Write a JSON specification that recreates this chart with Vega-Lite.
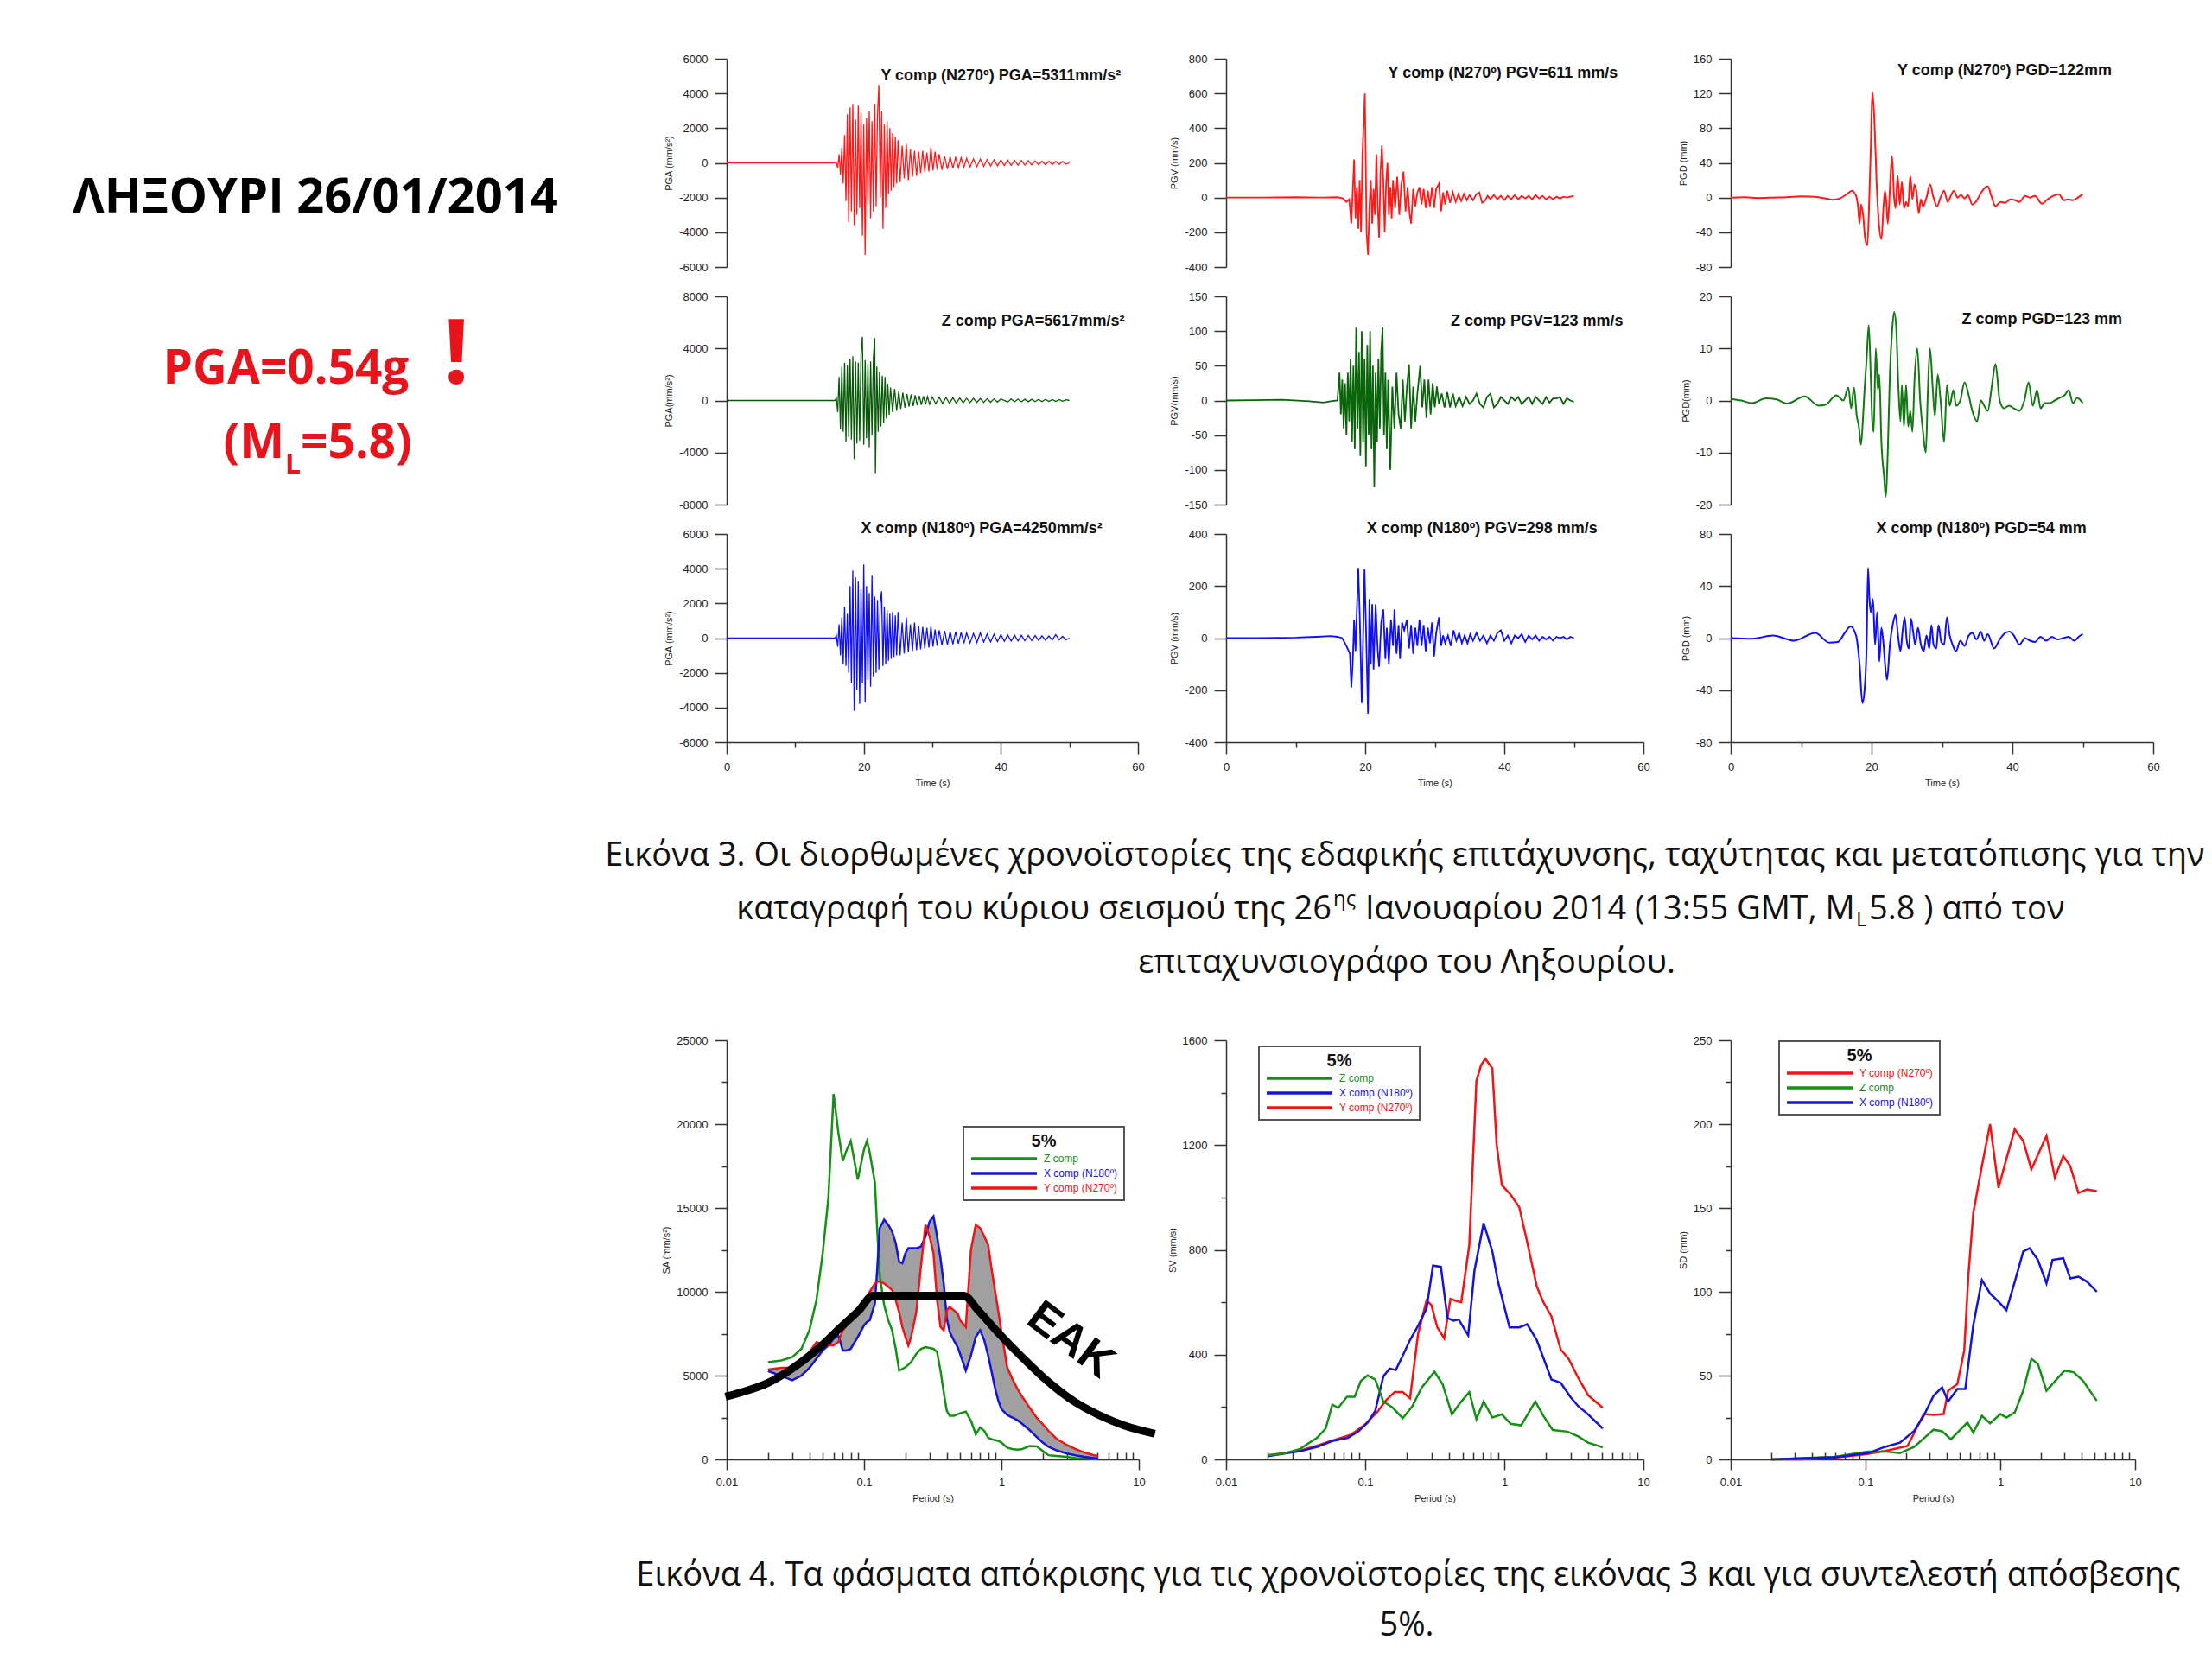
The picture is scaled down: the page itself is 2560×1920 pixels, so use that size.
{
  "$schema": "https://vega.github.io/schema/vega-lite/v6.json",
  "padding": {"left": 0, "top": 62, "right": 0, "bottom": 0},
  "background": "white",
  "columns": 4,
  "bounds": "flush",
  "align": "each",
  "spacing": {"row": 34, "column": 101},
  "resolve": {"scale": {"color": "independent"}},
  "datasets": {
    "ay": [
      {"t":0,"v":0},{"t":15.5,"v":0},{"t":16,"v":30},{"t":16.2,"v":-300},{"t":16.4,"v":500},{"t":16.6,"v":-700},{"t":16.8,"v":900},{"t":17,"v":-1200},{"t":17.2,"v":1600},{"t":17.4,"v":-2200},{"t":17.6,"v":2800},{"t":17.8,"v":-3400},{"t":18,"v":3200},{"t":18.2,"v":-2800},{"t":18.4,"v":3400},{"t":18.6,"v":-3600},{"t":18.8,"v":2500},{"t":19,"v":-3000},{"t":19.2,"v":3300},{"t":19.4,"v":-2600},{"t":19.6,"v":2900},{"t":19.8,"v":-4200},{"t":20,"v":2200},{"t":20.2,"v":-5300},{"t":20.4,"v":2600},{"t":20.6,"v":-2400},{"t":20.8,"v":3000},{"t":21,"v":-3200},{"t":21.2,"v":2400},{"t":21.4,"v":-2800},{"t":21.6,"v":3400},{"t":21.8,"v":-2500},{"t":22,"v":2800},{"t":22.2,"v":4500},{"t":22.4,"v":-2000},{"t":22.6,"v":3000},{"t":22.8,"v":-3800},{"t":23,"v":2200},{"t":23.2,"v":-2600},{"t":23.4,"v":2400},{"t":23.6,"v":-1800},{"t":23.8,"v":2000},{"t":24,"v":-1600},{"t":24.2,"v":1700},{"t":24.4,"v":-1400},{"t":24.6,"v":1500},{"t":24.8,"v":-1200},{"t":25,"v":1300},{"t":25.3,"v":-1100},{"t":25.6,"v":1000},{"t":25.9,"v":-900},{"t":26.2,"v":1100},{"t":26.5,"v":-1000},{"t":26.8,"v":800},{"t":27.1,"v":-800},{"t":27.4,"v":700},{"t":27.7,"v":-750},{"t":28,"v":650},{"t":28.3,"v":-600},{"t":28.6,"v":700},{"t":28.9,"v":-550},{"t":29.2,"v":600},{"t":29.5,"v":-500},{"t":29.8,"v":900},{"t":30.1,"v":-450},{"t":30.4,"v":650},{"t":30.7,"v":-400},{"t":31,"v":500},{"t":31.4,"v":-400},{"t":31.8,"v":380},{"t":32.2,"v":-350},{"t":32.6,"v":350},{"t":33,"v":-300},{"t":33.4,"v":320},{"t":33.8,"v":-280},{"t":34.2,"v":300},{"t":34.6,"v":-260},{"t":35,"v":260},{"t":35.5,"v":-240},{"t":36,"v":230},{"t":36.5,"v":-220},{"t":37,"v":220},{"t":37.5,"v":-200},{"t":38,"v":200},{"t":38.5,"v":-180},{"t":39,"v":180},{"t":39.5,"v":-170},{"t":40,"v":170},{"t":40.5,"v":-150},{"t":41,"v":160},{"t":41.5,"v":-140},{"t":42,"v":140},{"t":42.5,"v":-130},{"t":43,"v":130},{"t":43.5,"v":-120},{"t":44,"v":120},{"t":44.5,"v":-110},{"t":45,"v":110},{"t":45.5,"v":-100},{"t":46,"v":100},{"t":46.5,"v":-100},{"t":47,"v":90},{"t":47.5,"v":-90},{"t":48,"v":90},{"t":48.5,"v":-80},{"t":49,"v":80},{"t":49.5,"v":-80},{"t":50,"v":0}
    ],
    "az": [
      {"t":0,"v":0},{"t":15.8,"v":0},{"t":16,"v":200},{"t":16.2,"v":-900},{"t":16.4,"v":1800},{"t":16.6,"v":-2200},{"t":16.8,"v":2600},{"t":17,"v":-2400},{"t":17.2,"v":2900},{"t":17.4,"v":-3200},{"t":17.6,"v":2700},{"t":17.8,"v":-2800},{"t":18,"v":3200},{"t":18.2,"v":-3000},{"t":18.4,"v":3400},{"t":18.6,"v":-4500},{"t":18.8,"v":3000},{"t":19,"v":-3300},{"t":19.2,"v":2900},{"t":19.4,"v":-3100},{"t":19.6,"v":3600},{"t":19.8,"v":4900},{"t":20,"v":-3400},{"t":20.2,"v":3100},{"t":20.4,"v":-2900},{"t":20.6,"v":2800},{"t":20.8,"v":-3600},{"t":21,"v":3000},{"t":21.2,"v":-2700},{"t":21.4,"v":3300},{"t":21.6,"v":4800},{"t":21.7,"v":-5600},{"t":21.9,"v":2600},{"t":22.1,"v":-2400},{"t":22.3,"v":2200},{"t":22.5,"v":-2000},{"t":22.7,"v":1900},{"t":22.9,"v":-1700},{"t":23.1,"v":1800},{"t":23.3,"v":-1400},{"t":23.5,"v":1300},{"t":23.7,"v":-1100},{"t":23.9,"v":1000},{"t":24.2,"v":-900},{"t":24.5,"v":900},{"t":24.8,"v":-800},{"t":25.1,"v":700},{"t":25.4,"v":-650},{"t":25.7,"v":600},{"t":26,"v":-550},{"t":26.3,"v":500},{"t":26.6,"v":-480},{"t":26.9,"v":450},{"t":27.2,"v":-420},{"t":27.5,"v":400},{"t":27.8,"v":-380},{"t":28.1,"v":360},{"t":28.4,"v":-340},{"t":28.7,"v":330},{"t":29,"v":-310},{"t":29.3,"v":300},{"t":29.6,"v":-290},{"t":30,"v":280},{"t":30.5,"v":-260},{"t":31,"v":250},{"t":31.5,"v":-240},{"t":32,"v":230},{"t":32.5,"v":-220},{"t":33,"v":210},{"t":33.5,"v":-200},{"t":34,"v":190},{"t":34.5,"v":-180},{"t":35,"v":170},{"t":35.5,"v":-160},{"t":36,"v":160},{"t":36.5,"v":-150},{"t":37,"v":150},{"t":37.5,"v":-140},{"t":38,"v":140},{"t":38.5,"v":-130},{"t":39,"v":130},{"t":39.5,"v":-120},{"t":40,"v":120},{"t":41,"v":-110},{"t":41.5,"v":110},{"t":42,"v":-100},{"t":42.5,"v":100},{"t":43,"v":-100},{"t":43.5,"v":90},{"t":44,"v":-90},{"t":44.5,"v":90},{"t":45,"v":-80},{"t":45.5,"v":80},{"t":46,"v":-80},{"t":46.5,"v":80},{"t":47,"v":-70},{"t":47.5,"v":70},{"t":48,"v":-70},{"t":48.5,"v":70},{"t":49,"v":-60},{"t":49.5,"v":60},{"t":50,"v":0}
    ],
    "ax": [
      {"t":0,"v":0},{"t":15.8,"v":0},{"t":16,"v":150},{"t":16.2,"v":-500},{"t":16.4,"v":800},{"t":16.6,"v":-1000},{"t":16.8,"v":1200},{"t":17,"v":-1500},{"t":17.2,"v":1800},{"t":17.4,"v":-1600},{"t":17.6,"v":1400},{"t":17.8,"v":-2000},{"t":18,"v":3000},{"t":18.2,"v":-2600},{"t":18.4,"v":3900},{"t":18.6,"v":-4200},{"t":18.8,"v":3500},{"t":19,"v":-3000},{"t":19.2,"v":3300},{"t":19.4,"v":-3800},{"t":19.6,"v":2800},{"t":19.8,"v":-2600},{"t":20,"v":4250},{"t":20.2,"v":-3700},{"t":20.4,"v":3000},{"t":20.6,"v":-2400},{"t":20.8,"v":2600},{"t":21,"v":-2800},{"t":21.2,"v":3600},{"t":21.4,"v":-2200},{"t":21.6,"v":2400},{"t":21.8,"v":-2000},{"t":22,"v":2200},{"t":22.2,"v":-1800},{"t":22.4,"v":2000},{"t":22.6,"v":2700},{"t":22.8,"v":-1600},{"t":23,"v":1800},{"t":23.2,"v":-1500},{"t":23.4,"v":1600},{"t":23.6,"v":-1300},{"t":23.8,"v":1400},{"t":24,"v":-1200},{"t":24.2,"v":1500},{"t":24.4,"v":-1100},{"t":24.6,"v":1300},{"t":24.8,"v":-1000},{"t":25,"v":1500},{"t":25.3,"v":-1000},{"t":25.6,"v":900},{"t":25.9,"v":-900},{"t":26.2,"v":1200},{"t":26.5,"v":-800},{"t":26.8,"v":800},{"t":27.1,"v":-750},{"t":27.4,"v":900},{"t":27.7,"v":-700},{"t":28,"v":700},{"t":28.3,"v":-650},{"t":28.6,"v":650},{"t":28.9,"v":-600},{"t":29.2,"v":600},{"t":29.5,"v":-550},{"t":29.8,"v":700},{"t":30.1,"v":-500},{"t":30.4,"v":500},{"t":30.7,"v":-450},{"t":31,"v":450},{"t":31.4,"v":-400},{"t":31.8,"v":420},{"t":32.2,"v":-380},{"t":32.6,"v":380},{"t":33,"v":-350},{"t":33.4,"v":350},{"t":33.8,"v":-320},{"t":34.2,"v":330},{"t":34.6,"v":-300},{"t":35,"v":300},{"t":35.5,"v":-280},{"t":36,"v":270},{"t":36.5,"v":-250},{"t":37,"v":300},{"t":37.5,"v":-230},{"t":38,"v":230},{"t":38.5,"v":-220},{"t":39,"v":220},{"t":39.5,"v":-200},{"t":40,"v":200},{"t":40.5,"v":-180},{"t":41,"v":180},{"t":41.5,"v":-170},{"t":42,"v":170},{"t":42.5,"v":-160},{"t":43,"v":160},{"t":43.5,"v":-150},{"t":44,"v":150},{"t":44.5,"v":-140},{"t":45,"v":140},{"t":45.5,"v":-130},{"t":46,"v":130},{"t":46.5,"v":-120},{"t":47,"v":120},{"t":47.5,"v":-110},{"t":48,"v":200},{"t":48.5,"v":-100},{"t":49,"v":100},{"t":49.5,"v":-100},{"t":50,"v":0}
    ],
    "vy": [
      {"t":0,"v":0},{"t":5,"v":0},{"t":10,"v":2},{"t":14,"v":0},{"t":16,"v":2},{"t":16.8,"v":-5},{"t":17.3,"v":-25},{"t":17.7,"v":-10},{"t":18,"v":-150},{"t":18.2,"v":30},{"t":18.4,"v":220},{"t":18.6,"v":-120},{"t":18.8,"v":60},{"t":19,"v":-180},{"t":19.2,"v":100},{"t":19.4,"v":-200},{"t":19.6,"v":250},{"t":19.95,"v":600},{"t":20.2,"v":-200},{"t":20.4,"v":-330},{"t":20.6,"v":-50},{"t":20.8,"v":100},{"t":21,"v":-150},{"t":21.2,"v":50},{"t":21.4,"v":-100},{"t":21.6,"v":250},{"t":21.8,"v":-50},{"t":22,"v":-230},{"t":22.2,"v":150},{"t":22.4,"v":300},{"t":22.6,"v":100},{"t":22.8,"v":-200},{"t":23,"v":80},{"t":23.2,"v":200},{"t":23.4,"v":-100},{"t":23.6,"v":60},{"t":23.8,"v":-120},{"t":24,"v":100},{"t":24.3,"v":-60},{"t":24.6,"v":120},{"t":24.9,"v":-100},{"t":25.2,"v":80},{"t":25.5,"v":150},{"t":25.8,"v":-80},{"t":26.1,"v":60},{"t":26.4,"v":-100},{"t":26.6,"v":-150},{"t":26.9,"v":50},{"t":27.2,"v":-50},{"t":27.5,"v":30},{"t":27.8,"v":60},{"t":28.1,"v":-40},{"t":28.4,"v":50},{"t":28.7,"v":-60},{"t":29,"v":40},{"t":29.3,"v":-50},{"t":29.6,"v":60},{"t":29.9,"v":-60},{"t":30.2,"v":50},{"t":30.6,"v":80},{"t":30.9,"v":-80},{"t":31.2,"v":30},{"t":31.5,"v":-40},{"t":31.8,"v":40},{"t":32.2,"v":-30},{"t":32.6,"v":30},{"t":33,"v":-25},{"t":33.4,"v":20},{"t":33.8,"v":-20},{"t":34.2,"v":20},{"t":34.6,"v":-15},{"t":35,"v":15},{"t":35.5,"v":-15},{"t":36,"v":20},{"t":36.4,"v":30},{"t":36.8,"v":-30},{"t":37.2,"v":-20},{"t":37.6,"v":10},{"t":38,"v":-10},{"t":38.5,"v":15},{"t":39,"v":-10},{"t":39.5,"v":10},{"t":40,"v":-15},{"t":40.5,"v":10},{"t":41,"v":-10},{"t":41.5,"v":15},{"t":42,"v":-10},{"t":42.5,"v":10},{"t":43,"v":-5},{"t":43.5,"v":10},{"t":44,"v":-10},{"t":44.5,"v":15},{"t":45,"v":-5},{"t":45.5,"v":10},{"t":46,"v":-10},{"t":46.5,"v":5},{"t":47,"v":-10},{"t":47.5,"v":5},{"t":48,"v":-5},{"t":48.5,"v":5},{"t":49,"v":0},{"t":49.5,"v":5},{"t":50,"v":10}
    ],
    "vz": [
      {"t":0,"v":0},{"t":4,"v":0.5},{"t":8,"v":1},{"t":12,"v":-1},{"t":14,"v":-3},{"t":15,"v":-1},{"t":16,"v":0},{"t":16.3,"v":40},{"t":16.5,"v":-20},{"t":16.7,"v":30},{"t":16.9,"v":-40},{"t":17.1,"v":25},{"t":17.3,"v":-50},{"t":17.5,"v":40},{"t":17.7,"v":-30},{"t":17.9,"v":60},{"t":18.1,"v":-60},{"t":18.3,"v":50},{"t":18.5,"v":-70},{"t":18.7,"v":105},{"t":18.9,"v":-40},{"t":19.1,"v":70},{"t":19.3,"v":-80},{"t":19.5,"v":100},{"t":19.7,"v":-60},{"t":19.9,"v":60},{"t":20.1,"v":-95},{"t":20.3,"v":80},{"t":20.5,"v":-50},{"t":20.7,"v":100},{"t":20.9,"v":-70},{"t":21.1,"v":50},{"t":21.3,"v":-125},{"t":21.5,"v":40},{"t":21.7,"v":-60},{"t":21.9,"v":60},{"t":22.1,"v":-40},{"t":22.3,"v":70},{"t":22.5,"v":105},{"t":22.7,"v":-50},{"t":22.9,"v":40},{"t":23.1,"v":-70},{"t":23.3,"v":30},{"t":23.6,"v":-100},{"t":23.9,"v":20},{"t":24.2,"v":-40},{"t":24.5,"v":40},{"t":24.8,"v":-20},{"t":25.1,"v":-40},{"t":25.4,"v":30},{"t":25.7,"v":-30},{"t":26,"v":20},{"t":26.3,"v":52},{"t":26.6,"v":-40},{"t":26.9,"v":20},{"t":27.2,"v":-30},{"t":27.5,"v":10},{"t":27.9,"v":50},{"t":28.2,"v":-10},{"t":28.5,"v":30},{"t":28.8,"v":-25},{"t":29.1,"v":30},{"t":29.4,"v":-20},{"t":29.7,"v":25},{"t":30,"v":-10},{"t":30.3,"v":20},{"t":30.6,"v":-5},{"t":31,"v":10},{"t":31.4,"v":-10},{"t":31.8,"v":12},{"t":32.2,"v":-10},{"t":32.6,"v":10},{"t":33,"v":-8},{"t":33.5,"v":5},{"t":34,"v":-8},{"t":34.5,"v":5},{"t":35,"v":-5},{"t":35.5,"v":0},{"t":36,"v":10},{"t":36.5,"v":-5},{"t":37,"v":-10},{"t":37.5,"v":5},{"t":38,"v":10},{"t":38.5,"v":-10},{"t":39,"v":-5},{"t":39.5,"v":5},{"t":40,"v":0},{"t":40.5,"v":-5},{"t":41,"v":5},{"t":41.5,"v":0},{"t":42,"v":5},{"t":42.5,"v":-5},{"t":43,"v":0},{"t":43.5,"v":5},{"t":44,"v":-5},{"t":44.5,"v":5},{"t":45,"v":0},{"t":45.5,"v":-5},{"t":46,"v":5},{"t":46.5,"v":-3},{"t":47,"v":3},{"t":47.5,"v":3},{"t":48,"v":5},{"t":48.5,"v":-5},{"t":49,"v":3},{"t":49.5,"v":0},{"t":50,"v":-2}
    ],
    "vx": [
      {"t":0,"v":0},{"t":5,"v":0},{"t":10,"v":2},{"t":13,"v":5},{"t":15,"v":8},{"t":16,"v":5},{"t":16.7,"v":0},{"t":17.3,"v":-30},{"t":17.8,"v":-60},{"t":18,"v":-190},{"t":18.2,"v":-100},{"t":18.4,"v":70},{"t":18.6,"v":-50},{"t":19,"v":270},{"t":19.2,"v":100},{"t":19.5,"v":-250},{"t":19.7,"v":0},{"t":19.9,"v":265},{"t":20.1,"v":50},{"t":20.4,"v":-290},{"t":20.6,"v":150},{"t":20.8,"v":-100},{"t":21,"v":130},{"t":21.2,"v":-120},{"t":21.5,"v":130},{"t":21.8,"v":-50},{"t":22,"v":-110},{"t":22.3,"v":60},{"t":22.6,"v":110},{"t":22.9,"v":-80},{"t":23.1,"v":40},{"t":23.4,"v":-100},{"t":23.7,"v":70},{"t":24,"v":-30},{"t":24.2,"v":110},{"t":24.5,"v":-60},{"t":24.8,"v":50},{"t":25,"v":-80},{"t":25.3,"v":60},{"t":25.6,"v":30},{"t":26,"v":70},{"t":26.3,"v":-40},{"t":26.6,"v":50},{"t":26.9,"v":-60},{"t":27.2,"v":40},{"t":27.5,"v":-30},{"t":27.8,"v":70},{"t":28.1,"v":-30},{"t":28.4,"v":50},{"t":28.7,"v":-50},{"t":29,"v":40},{"t":29.3,"v":-20},{"t":29.6,"v":60},{"t":29.9,"v":-70},{"t":30.2,"v":20},{"t":30.6,"v":80},{"t":30.9,"v":-30},{"t":31.2,"v":10},{"t":31.5,"v":-20},{"t":31.9,"v":10},{"t":32.3,"v":-30},{"t":32.7,"v":30},{"t":33.1,"v":-10},{"t":33.5,"v":20},{"t":33.9,"v":-20},{"t":34.3,"v":10},{"t":34.7,"v":-20},{"t":35.1,"v":15},{"t":35.5,"v":-10},{"t":36,"v":20},{"t":36.5,"v":-10},{"t":37,"v":10},{"t":37.5,"v":-20},{"t":38,"v":10},{"t":38.5,"v":-10},{"t":39,"v":20},{"t":39.5,"v":30},{"t":40,"v":-10},{"t":40.5,"v":10},{"t":41,"v":-20},{"t":41.5,"v":10},{"t":42,"v":0},{"t":42.5,"v":15},{"t":43,"v":-15},{"t":43.5,"v":10},{"t":44,"v":-5},{"t":44.5,"v":10},{"t":45,"v":-10},{"t":45.5,"v":5},{"t":46,"v":-5},{"t":46.5,"v":5},{"t":47,"v":-10},{"t":47.5,"v":5},{"t":48,"v":0},{"t":48.5,"v":5},{"t":49,"v":-5},{"t":49.5,"v":5},{"t":50,"v":0}
    ],
    "dy": [
      {"t":0,"v":0},{"t":2,"v":0.5},{"t":4,"v":-0.5},{"t":6,"v":0},{"t":8,"v":0.5},{"t":10,"v":1.5},{"t":12,"v":1},{"t":13.5,"v":-1},{"t":14.5,"v":-2.5},{"t":15.5,"v":-1},{"t":16.5,"v":4},{"t":17.2,"v":8},{"t":17.8,"v":2},{"t":18.1,"v":-12},{"t":18.3,"v":-30},{"t":18.5,"v":-8},{"t":18.8,"v":-20},{"t":19.1,"v":-48},{"t":19.4,"v":-55},{"t":19.7,"v":5},{"t":19.9,"v":60},{"t":20.1,"v":122},{"t":20.4,"v":90},{"t":20.7,"v":20},{"t":21,"v":-25},{"t":21.4,"v":-48},{"t":21.7,"v":-10},{"t":21.9,"v":8},{"t":22.1,"v":-5},{"t":22.3,"v":-30},{"t":22.6,"v":10},{"t":22.9,"v":48},{"t":23.2,"v":0},{"t":23.4,"v":-12},{"t":23.7,"v":25},{"t":24,"v":-8},{"t":24.3,"v":18},{"t":24.6,"v":-12},{"t":24.9,"v":-5},{"t":25.2,"v":-10},{"t":25.5,"v":25},{"t":25.8,"v":-2},{"t":26.1,"v":15},{"t":26.4,"v":5},{"t":26.7,"v":-18},{"t":27,"v":-2},{"t":27.3,"v":-10},{"t":27.8,"v":0},{"t":28.3,"v":15},{"t":28.8,"v":0},{"t":29.3,"v":-10},{"t":29.8,"v":0},{"t":30.3,"v":8},{"t":30.8,"v":-5},{"t":31.3,"v":3},{"t":31.7,"v":8},{"t":32.2,"v":0},{"t":32.7,"v":3},{"t":33.2,"v":-1},{"t":33.7,"v":3},{"t":34.3,"v":-8},{"t":34.9,"v":-4},{"t":35.5,"v":5},{"t":36.5,"v":13},{"t":37,"v":2},{"t":37.6,"v":-10},{"t":38.3,"v":-5},{"t":39,"v":-6},{"t":39.7,"v":-2},{"t":40.4,"v":-3},{"t":41,"v":-5},{"t":41.8,"v":2},{"t":42.5,"v":0},{"t":43.2,"v":2},{"t":44.2,"v":-7},{"t":45,"v":-2},{"t":45.8,"v":2},{"t":46.6,"v":4},{"t":47.3,"v":-3},{"t":47.9,"v":-2},{"t":48.6,"v":-3},{"t":49.3,"v":0},{"t":50,"v":4}
    ],
    "dz": [
      {"t":0,"v":0.3},{"t":1.5,"v":0},{"t":3,"v":-0.5},{"t":5,"v":0.4},{"t":6.5,"v":0.2},{"t":8,"v":-0.6},{"t":10.5,"v":0.8},{"t":12.5,"v":-1},{"t":13.5,"v":-0.8},{"t":15,"v":1},{"t":16,"v":0},{"t":16.7,"v":2.5},{"t":17.1,"v":-1.5},{"t":17.5,"v":2.5},{"t":17.9,"v":-3},{"t":18.2,"v":-5},{"t":18.5,"v":-8.5},{"t":18.8,"v":-3},{"t":19,"v":2},{"t":19.3,"v":8},{"t":19.6,"v":14.5},{"t":19.9,"v":4},{"t":20.1,"v":-4},{"t":20.3,"v":-6},{"t":20.6,"v":10},{"t":20.9,"v":2},{"t":21.1,"v":5},{"t":21.4,"v":-8},{"t":21.8,"v":-15},{"t":22,"v":-18.5},{"t":22.3,"v":-10},{"t":22.6,"v":5},{"t":22.9,"v":13},{"t":23.2,"v":17},{"t":23.5,"v":14},{"t":23.8,"v":3},{"t":24.1,"v":-4},{"t":24.3,"v":3},{"t":24.6,"v":-5},{"t":24.9,"v":3},{"t":25.2,"v":-5},{"t":25.5,"v":-2},{"t":25.8,"v":-6},{"t":26.1,"v":4},{"t":26.5,"v":10},{"t":26.9,"v":0},{"t":27.3,"v":-6},{"t":27.7,"v":-10},{"t":28,"v":2},{"t":28.3,"v":10},{"t":28.7,"v":2},{"t":29,"v":-3},{"t":29.4,"v":5},{"t":29.8,"v":0},{"t":30.3,"v":-8},{"t":30.7,"v":3},{"t":31.1,"v":-1},{"t":31.6,"v":2},{"t":32,"v":-1},{"t":32.6,"v":0},{"t":33.2,"v":3.5},{"t":33.8,"v":1},{"t":34.3,"v":-2},{"t":35,"v":-4},{"t":35.5,"v":0},{"t":36,"v":-1},{"t":36.5,"v":-2},{"t":37.1,"v":3},{"t":37.6,"v":7},{"t":38.2,"v":0},{"t":38.8,"v":-1.5},{"t":39.5,"v":-1},{"t":40.2,"v":-1.5},{"t":41,"v":-2},{"t":41.7,"v":0},{"t":42.3,"v":3.5},{"t":42.9,"v":-1},{"t":43.5,"v":2},{"t":44,"v":-1.5},{"t":44.6,"v":-0.5},{"t":45.3,"v":-0.5},{"t":46,"v":0},{"t":46.7,"v":0.5},{"t":47.4,"v":1},{"t":48,"v":2},{"t":48.6,"v":-0.5},{"t":49.2,"v":0.5},{"t":50,"v":-0.5}
    ],
    "dx": [
      {"t":0,"v":0},{"t":3,"v":-0.5},{"t":6,"v":2},{"t":9,"v":-2},{"t":12,"v":4},{"t":14,"v":-3.5},{"t":15.2,"v":-3},{"t":16.2,"v":4},{"t":17,"v":9},{"t":17.8,"v":2},{"t":18.3,"v":-20},{"t":18.7,"v":-50},{"t":19,"v":-40},{"t":19.3,"v":-5},{"t":19.5,"v":54},{"t":19.7,"v":30},{"t":19.9,"v":20},{"t":20.2,"v":30},{"t":20.5,"v":-5},{"t":20.8,"v":20},{"t":21.1,"v":-18},{"t":21.4,"v":8},{"t":21.7,"v":-5},{"t":22,"v":-25},{"t":22.2,"v":-32},{"t":22.6,"v":-5},{"t":23,"v":10},{"t":23.4,"v":18},{"t":23.8,"v":0},{"t":24.1,"v":-10},{"t":24.4,"v":5},{"t":24.7,"v":16},{"t":25,"v":-2},{"t":25.3,"v":-8},{"t":25.6,"v":15},{"t":25.9,"v":5},{"t":26.2,"v":-5},{"t":26.6,"v":8},{"t":27,"v":-5},{"t":27.4,"v":-10},{"t":27.8,"v":2},{"t":28.2,"v":-8},{"t":28.5,"v":10},{"t":28.8,"v":-5},{"t":29.2,"v":-8},{"t":29.5,"v":10},{"t":29.9,"v":-3},{"t":30.3,"v":-5},{"t":30.7,"v":16},{"t":31.1,"v":2},{"t":31.5,"v":-5},{"t":32,"v":-10},{"t":32.6,"v":-2},{"t":33.2,"v":-6},{"t":33.8,"v":2},{"t":34.3,"v":4},{"t":34.9,"v":-1},{"t":35.5,"v":5},{"t":36,"v":-2},{"t":36.5,"v":3},{"t":37.4,"v":-8},{"t":38.2,"v":-1},{"t":39,"v":4},{"t":39.6,"v":5},{"t":40.2,"v":2},{"t":41,"v":-5},{"t":41.8,"v":0},{"t":42.5,"v":-2},{"t":43.2,"v":-3},{"t":44,"v":1},{"t":44.8,"v":-2},{"t":45.6,"v":1},{"t":46.4,"v":-1},{"t":47.2,"v":0},{"t":48,"v":1},{"t":48.8,"v":-2},{"t":49.4,"v":1},{"t":50,"v":3}
    ],
    "sa": [
      {"T":0.02,"Z":5800,"X":5270,"Y":5360},{"T":0.025,"Z":5900,"X":4980,"Y":5460},{"T":0.03,"Z":6100,"X":4720,"Y":5460},{"T":0.035,"Z":6600,"X":5000,"Y":5900},{"T":0.04,"Z":7700,"X":5450,"Y":6400},{"T":0.045,"Z":9500,"X":6000,"Y":6990},{"T":0.05,"Z":12300,"X":6500,"Y":6900},{"T":0.055,"Z":15600,"X":6800,"Y":6800},{"T":0.06,"Z":21800,"X":7200,"Y":6800},{"T":0.065,"Z":19500,"X":7400,"Y":7000},{"T":0.07,"Z":17800,"X":6500,"Y":7700},{"T":0.075,"Z":18500,"X":6500,"Y":8000},{"T":0.08,"Z":19000,"X":6600,"Y":8300},{"T":0.09,"Z":16700,"X":7300,"Y":8900},{"T":0.1,"Z":18500,"X":8000,"Y":9400},{"T":0.105,"Z":19000,"X":8200,"Y":9700},{"T":0.11,"Z":18300,"X":8300,"Y":10000},{"T":0.12,"Z":16500,"X":9300,"Y":10500},{"T":0.125,"Z":13500,"X":11500,"Y":10600},{"T":0.13,"Z":11000,"X":13800,"Y":10600},{"T":0.14,"Z":9200,"X":14300,"Y":10500},{"T":0.15,"Z":8300,"X":14000,"Y":10300},{"T":0.16,"Z":7700,"X":13600,"Y":10100},{"T":0.17,"Z":6600,"X":12900,"Y":9500},{"T":0.18,"Z":5300,"X":11800,"Y":8800},{"T":0.19,"Z":5400,"X":11700,"Y":7900},{"T":0.2,"Z":5500,"X":12300,"Y":7300},{"T":0.21,"Z":5650,"X":12600,"Y":6800},{"T":0.22,"Z":5800,"X":12600,"Y":7300},{"T":0.24,"Z":6300,"X":12600,"Y":8800},{"T":0.26,"Z":6600,"X":12700,"Y":11600},{"T":0.28,"Z":6700,"X":13300,"Y":14000},{"T":0.3,"Z":6650,"X":14200,"Y":13300},{"T":0.32,"Z":6600,"X":14500,"Y":12300},{"T":0.34,"Z":6400,"X":13300,"Y":9500},{"T":0.36,"Z":5300,"X":12000,"Y":7900},{"T":0.38,"Z":4000,"X":10500,"Y":7700},{"T":0.4,"Z":2900,"X":8400,"Y":8900},{"T":0.42,"Z":2600,"X":7600,"Y":9100},{"T":0.45,"Z":2600,"X":7100,"Y":8900},{"T":0.48,"Z":2700,"X":6700,"Y":8700},{"T":0.5,"Z":2750,"X":6300,"Y":8300},{"T":0.55,"Z":2850,"X":5300,"Y":7900},{"T":0.6,"Z":2300,"X":6200,"Y":12500},{"T":0.65,"Z":1500,"X":7300,"Y":14000},{"T":0.7,"Z":1900,"X":7700,"Y":13800},{"T":0.75,"Z":1700,"X":7100,"Y":13300},{"T":0.8,"Z":1300,"X":6200,"Y":12800},{"T":0.85,"Z":1200,"X":5200,"Y":11300},{"T":0.9,"Z":1150,"X":4200,"Y":10000},{"T":0.95,"Z":1100,"X":3500,"Y":8800},{"T":1.0,"Z":1000,"X":3000,"Y":7600},{"T":1.1,"Z":700,"X":2650,"Y":5500},{"T":1.2,"Z":620,"X":2500,"Y":4800},{"T":1.3,"Z":580,"X":2350,"Y":4250},{"T":1.4,"Z":600,"X":2150,"Y":3800},{"T":1.6,"Z":800,"X":1750,"Y":3100},{"T":1.8,"Z":780,"X":1350,"Y":2500},{"T":2.0,"Z":500,"X":1000,"Y":2100},{"T":2.2,"Z":250,"X":750,"Y":1700},{"T":2.5,"Z":210,"X":550,"Y":1250},{"T":3.0,"Z":150,"X":350,"Y":850},{"T":3.5,"Z":80,"X":230,"Y":600},{"T":4.0,"Z":50,"X":150,"Y":420},{"T":4.5,"Z":30,"X":100,"Y":300},{"T":5.0,"Z":20,"X":60,"Y":200}
    ],
    "eak": [
      {"T":0.0098,"v":3740},{"T":0.0124,"v":3970},{"T":0.0197,"v":4540},{"T":0.0293,"v":5360},{"T":0.0464,"v":6610},{"T":0.069,"v":7950},{"T":0.092,"v":8900},{"T":0.116,"v":9770},{"T":0.53,"v":9770},{"T":0.68,"v":8870},{"T":0.97,"v":7470},{"T":1.44,"v":6030},{"T":2.15,"v":4690},{"T":3.39,"v":3450},{"T":5.3,"v":2590},{"T":7.9,"v":2010},{"T":13.1,"v":1530}
    ],
    "sv": [
      {"c":"Y","T":0.02,"v":16},{"c":"Y","T":0.026,"v":24},{"c":"Y","T":0.034,"v":34},{"c":"Y","T":0.045,"v":52},{"c":"Y","T":0.058,"v":72},{"c":"Y","T":0.079,"v":94},{"c":"Y","T":0.098,"v":130},{"c":"Y","T":0.121,"v":178},{"c":"Y","T":0.142,"v":227},{"c":"Y","T":0.163,"v":257},{"c":"Y","T":0.186,"v":257},{"c":"Y","T":0.21,"v":233},{"c":"Y","T":0.24,"v":480},{"c":"Y","T":0.276,"v":607},{"c":"Y","T":0.299,"v":589},{"c":"Y","T":0.33,"v":504},{"c":"Y","T":0.37,"v":462},{"c":"Y","T":0.41,"v":613},{"c":"Y","T":0.44,"v":607},{"c":"Y","T":0.49,"v":600},{"c":"Y","T":0.56,"v":818},{"c":"Y","T":0.63,"v":1445},{"c":"Y","T":0.68,"v":1505},{"c":"Y","T":0.73,"v":1530},{"c":"Y","T":0.82,"v":1493},{"c":"Y","T":0.88,"v":1204},{"c":"Y","T":0.96,"v":1047},{"c":"Y","T":1.11,"v":1011},{"c":"Y","T":1.28,"v":963},{"c":"Y","T":1.46,"v":830},{"c":"Y","T":1.71,"v":661},{"c":"Y","T":1.91,"v":600},{"c":"Y","T":2.18,"v":546},{"c":"Y","T":2.54,"v":420},{"c":"Y","T":2.9,"v":384},{"c":"Y","T":3.4,"v":311},{"c":"Y","T":4.0,"v":245},{"c":"Y","T":5.1,"v":197},
      {"c":"X","T":0.02,"v":12},{"c":"X","T":0.026,"v":22},{"c":"X","T":0.034,"v":31},{"c":"X","T":0.045,"v":48},{"c":"X","T":0.058,"v":70},{"c":"X","T":0.075,"v":82},{"c":"X","T":0.089,"v":106},{"c":"X","T":0.104,"v":140},{"c":"X","T":0.118,"v":185},{"c":"X","T":0.135,"v":317},{"c":"X","T":0.15,"v":347},{"c":"X","T":0.166,"v":341},{"c":"X","T":0.186,"v":396},{"c":"X","T":0.21,"v":456},{"c":"X","T":0.24,"v":510},{"c":"X","T":0.276,"v":577},{"c":"X","T":0.307,"v":740},{"c":"X","T":0.35,"v":735},{"c":"X","T":0.39,"v":540},{"c":"X","T":0.43,"v":530},{"c":"X","T":0.47,"v":534},{"c":"X","T":0.55,"v":474},{"c":"X","T":0.61,"v":721},{"c":"X","T":0.71,"v":902},{"c":"X","T":0.82,"v":794},{"c":"X","T":0.9,"v":679},{"c":"X","T":1.09,"v":504},{"c":"X","T":1.28,"v":504},{"c":"X","T":1.46,"v":516},{"c":"X","T":1.71,"v":456},{"c":"X","T":2.18,"v":305},{"c":"X","T":2.54,"v":293},{"c":"X","T":2.98,"v":239},{"c":"X","T":3.4,"v":203},{"c":"X","T":4.0,"v":172},{"c":"X","T":5.1,"v":118},
      {"c":"Z","T":0.02,"v":16},{"c":"Z","T":0.026,"v":22},{"c":"Z","T":0.034,"v":40},{"c":"Z","T":0.045,"v":82},{"c":"Z","T":0.052,"v":118},{"c":"Z","T":0.058,"v":209},{"c":"Z","T":0.064,"v":197},{"c":"Z","T":0.074,"v":239},{"c":"Z","T":0.084,"v":239},{"c":"Z","T":0.093,"v":299},{"c":"Z","T":0.104,"v":321},{"c":"Z","T":0.118,"v":305},{"c":"Z","T":0.135,"v":221},{"c":"Z","T":0.158,"v":197},{"c":"Z","T":0.186,"v":157},{"c":"Z","T":0.218,"v":203},{"c":"Z","T":0.255,"v":275},{"c":"Z","T":0.315,"v":335},{"c":"Z","T":0.36,"v":287},{"c":"Z","T":0.42,"v":172},{"c":"Z","T":0.48,"v":215},{"c":"Z","T":0.56,"v":257},{"c":"Z","T":0.63,"v":154},{"c":"Z","T":0.71,"v":221},{"c":"Z","T":0.82,"v":160},{"c":"Z","T":0.96,"v":172},{"c":"Z","T":1.11,"v":136},{"c":"Z","T":1.32,"v":130},{"c":"Z","T":1.67,"v":221},{"c":"Z","T":1.91,"v":166},{"c":"Z","T":2.23,"v":112},{"c":"Z","T":2.84,"v":106},{"c":"Z","T":3.4,"v":88},{"c":"Z","T":4.0,"v":64},{"c":"Z","T":5.1,"v":46}
    ],
    "sd": [
      {"c":"Y","T":0.02,"v":0},{"c":"Y","T":0.034,"v":0},{"c":"Y","T":0.059,"v":1},{"c":"Y","T":0.098,"v":3},{"c":"Y","T":0.14,"v":5},{"c":"Y","T":0.205,"v":8},{"c":"Y","T":0.27,"v":27},{"c":"Y","T":0.32,"v":26.5},{"c":"Y","T":0.38,"v":27},{"c":"Y","T":0.41,"v":41},{"c":"Y","T":0.48,"v":45},{"c":"Y","T":0.54,"v":65},{"c":"Y","T":0.58,"v":110},{"c":"Y","T":0.63,"v":147},{"c":"Y","T":0.73,"v":175},{"c":"Y","T":0.84,"v":200},{"c":"Y","T":0.97,"v":162},{"c":"Y","T":1.09,"v":177},{"c":"Y","T":1.28,"v":197},{"c":"Y","T":1.48,"v":190},{"c":"Y","T":1.7,"v":173},{"c":"Y","T":2.2,"v":193},{"c":"Y","T":2.54,"v":168},{"c":"Y","T":2.93,"v":181},{"c":"Y","T":3.3,"v":175},{"c":"Y","T":3.8,"v":159},{"c":"Y","T":4.4,"v":161},{"c":"Y","T":5.2,"v":160},
      {"c":"Z","T":0.02,"v":0},{"c":"Z","T":0.059,"v":1.5},{"c":"Z","T":0.104,"v":4.7},{"c":"Z","T":0.14,"v":4.7},{"c":"Z","T":0.18,"v":3.7},{"c":"Z","T":0.23,"v":7.5},{"c":"Z","T":0.32,"v":17.7},{"c":"Z","T":0.37,"v":16.8},{"c":"Z","T":0.43,"v":12},{"c":"Z","T":0.57,"v":22},{"c":"Z","T":0.63,"v":16},{"c":"Z","T":0.73,"v":26},{"c":"Z","T":0.84,"v":21.5},{"c":"Z","T":1.0,"v":27},{"c":"Z","T":1.11,"v":25},{"c":"Z","T":1.28,"v":28},{"c":"Z","T":1.48,"v":41},{"c":"Z","T":1.7,"v":60},{"c":"Z","T":1.9,"v":57},{"c":"Z","T":2.2,"v":41},{"c":"Z","T":2.44,"v":45},{"c":"Z","T":3.0,"v":53},{"c":"Z","T":3.5,"v":52},{"c":"Z","T":4.1,"v":47},{"c":"Z","T":5.2,"v":35},
      {"c":"X","T":0.02,"v":0},{"c":"X","T":0.059,"v":1.3},{"c":"X","T":0.104,"v":3.7},{"c":"X","T":0.14,"v":7.5},{"c":"X","T":0.18,"v":10},{"c":"X","T":0.23,"v":17},{"c":"X","T":0.27,"v":26},{"c":"X","T":0.32,"v":38},{"c":"X","T":0.37,"v":43},{"c":"X","T":0.41,"v":34.5},{"c":"X","T":0.48,"v":42},{"c":"X","T":0.55,"v":42},{"c":"X","T":0.63,"v":80},{"c":"X","T":0.73,"v":107},{"c":"X","T":0.84,"v":99},{"c":"X","T":1.0,"v":93},{"c":"X","T":1.11,"v":89},{"c":"X","T":1.28,"v":106},{"c":"X","T":1.48,"v":124},{"c":"X","T":1.65,"v":126},{"c":"X","T":1.9,"v":119},{"c":"X","T":2.2,"v":105},{"c":"X","T":2.44,"v":119},{"c":"X","T":2.93,"v":120},{"c":"X","T":3.3,"v":108},{"c":"X","T":3.8,"v":109},{"c":"X","T":4.4,"v":106},{"c":"X","T":5.2,"v":100}
    ]
  },
  "concat": [
    {
      "width": 740, "height": 241,
      "layer": [
        {"data": {"values": [{"s": "ΛΗΞΟΥΡΙ 26/01/2014"}]}, "mark": {"type": "text", "font": "Open Sans", "fontSize": 56, "fontWeight": "bold", "color": "#000", "align": "center", "baseline": "alphabetic"},
         "encoding": {"x": {"datum": 365, "scale": {"domain": [0, 740], "nice": false}, "axis": null}, "y": {"datum": 178, "scale": {"domain": [0, 241], "reverse": true, "nice": false}, "axis": null}, "text": {"field": "s"}}},
        {"data": {"values": [{"s": "PGA=0.54g"}]}, "mark": {"type": "text", "font": "Open Sans", "fontSize": 55, "fontWeight": "bold", "color": "#e8141c", "align": "center", "baseline": "alphabetic"},
         "encoding": {"x": {"datum": 331}, "y": {"datum": 376}, "text": {"field": "s"}}},
        {"data": {"values": [{"s": "!"}]}, "mark": {"type": "text", "font": "Open Sans", "fontSize": 104, "fontWeight": "bold", "color": "#e8141c", "align": "center", "baseline": "alphabetic"},
         "encoding": {"x": {"datum": 528}, "y": {"datum": 376}, "text": {"field": "s"}}},
        {"data": {"values": [{"s": "(M"}]}, "mark": {"type": "text", "font": "Open Sans", "fontSize": 55, "fontWeight": "bold", "color": "#e8141c", "align": "right", "baseline": "alphabetic"},
         "encoding": {"x": {"datum": 329}, "y": {"datum": 462}, "text": {"field": "s"}}},
        {"data": {"values": [{"s": "L"}]}, "mark": {"type": "text", "font": "Open Sans", "fontSize": 32, "fontWeight": "bold", "color": "#e8141c", "align": "left", "baseline": "alphabetic"},
         "encoding": {"x": {"datum": 330}, "y": {"datum": 480}, "text": {"field": "s"}}},
        {"data": {"values": [{"s": "=5.8)"}]}, "mark": {"type": "text", "font": "Open Sans", "fontSize": 55, "fontWeight": "bold", "color": "#e8141c", "align": "left", "baseline": "alphabetic"},
         "encoding": {"x": {"datum": 348}, "y": {"datum": 462}, "text": {"field": "s"}}}
      ]
    },
    {
      "width": 476, "height": 241,
      "layer": [
        {"data": {"name": "ay"}, "mark": {"type": "line", "color": "#ff1a1a", "strokeWidth": 1.3},
         "encoding": {
           "x": {"field": "t", "type": "quantitative", "scale": {"domain": [0, 60], "nice": false}, "axis": null},
           "y": {"field": "v", "type": "quantitative", "scale": {"domain": [-6000, 6000], "nice": false},
                 "axis": {"title": "PGA (mm/s²)", "values": [-6000,-5000,-4000,-3000,-2000,-1000,0,1000,2000,3000,4000,5000,6000], "labelExpr": "datum.value % 2000 == 0 ? '' + datum.value : ''", "tickSize": {"expr": "datum.value % 2000 == 0 ? 14 : 6"}}}}},
        {"data": {"values": [{"s": "Y comp (N270º) PGA=5311mm/s²"}]}, "mark": {"type": "text", "font": "Liberation Sans", "fontSize": 18, "fontWeight": "bold", "color": "#111"},
         "encoding": {"x": {"datum": 40}, "y": {"datum": 5000}, "text": {"field": "s"}}}
      ]
    },
    {
      "width": 483, "height": 241,
      "layer": [
        {"data": {"name": "vy"}, "mark": {"type": "line", "color": "#ff1a1a", "strokeWidth": 1.8},
         "encoding": {
           "x": {"field": "t", "type": "quantitative", "scale": {"domain": [0, 60], "nice": false}, "axis": null},
           "y": {"field": "v", "type": "quantitative", "scale": {"domain": [-400, 800], "nice": false},
                 "axis": {"title": "PGV (mm/s)", "values": [-400,-300,-200,-100,0,100,200,300,400,500,600,700,800], "labelExpr": "datum.value % 200 == 0 ? '' + datum.value : ''", "tickSize": {"expr": "datum.value % 200 == 0 ? 14 : 6"}}}}},
        {"data": {"values": [{"s": "Y comp (N270º) PGV=611 mm/s"}]}, "mark": {"type": "text", "font": "Liberation Sans", "fontSize": 18, "fontWeight": "bold", "color": "#111"},
         "encoding": {"x": {"datum": 39.8}, "y": {"datum": 714}, "text": {"field": "s"}}}
      ]
    },
    {
      "width": 489, "height": 241,
      "layer": [
        {"data": {"name": "dy"}, "mark": {"type": "line", "color": "#ff1a1a", "strokeWidth": 2, "interpolate": "monotone"},
         "encoding": {
           "x": {"field": "t", "type": "quantitative", "scale": {"domain": [0, 60], "nice": false}, "axis": null},
           "y": {"field": "v", "type": "quantitative", "scale": {"domain": [-80, 160], "nice": false},
                 "axis": {"title": "PGD (mm)", "values": [-80,-60,-40,-20,0,20,40,60,80,100,120,140,160], "labelExpr": "datum.value % 40 == 0 ? '' + datum.value : ''", "tickSize": {"expr": "datum.value % 40 == 0 ? 14 : 6"}}}}},
        {"data": {"values": [{"s": "Y comp (N270º) PGD=122mm"}]}, "mark": {"type": "text", "font": "Liberation Sans", "fontSize": 18, "fontWeight": "bold", "color": "#111"},
         "encoding": {"x": {"datum": 38.9}, "y": {"datum": 146}, "text": {"field": "s"}}}
      ]
    },
    {"width": 740, "height": 10, "data": {"values": []}, "mark": {"type": "point", "opacity": 0}},
    {
      "width": 476, "height": 241,
      "layer": [
        {"data": {"name": "az"}, "mark": {"type": "line", "color": "#075a07", "strokeWidth": 1.3},
         "encoding": {
           "x": {"field": "t", "type": "quantitative", "scale": {"domain": [0, 60], "nice": false}, "axis": null},
           "y": {"field": "v", "type": "quantitative", "scale": {"domain": [-8000, 8000], "nice": false},
                 "axis": {"title": "PGA(mm/s²)", "values": [-8000,-6000,-4000,-2000,0,2000,4000,6000,8000], "labelExpr": "datum.value % 4000 == 0 ? '' + datum.value : ''", "tickSize": {"expr": "datum.value % 4000 == 0 ? 14 : 6"}}}}},
        {"data": {"values": [{"s": "Z comp PGA=5617mm/s²"}]}, "mark": {"type": "text", "font": "Liberation Sans", "fontSize": 18, "fontWeight": "bold", "color": "#111"},
         "encoding": {"x": {"datum": 44.7}, "y": {"datum": 6100}, "text": {"field": "s"}}}
      ]
    },
    {
      "width": 483, "height": 241,
      "layer": [
        {"data": {"name": "vz"}, "mark": {"type": "line", "color": "#0a640a", "strokeWidth": 1.8},
         "encoding": {
           "x": {"field": "t", "type": "quantitative", "scale": {"domain": [0, 60], "nice": false}, "axis": null},
           "y": {"field": "v", "type": "quantitative", "scale": {"domain": [-150, 150], "nice": false},
                 "axis": {"title": "PGV(mm/s)", "values": [-150,-125,-100,-75,-50,-25,0,25,50,75,100,125,150], "labelExpr": "datum.value % 50 == 0 ? '' + datum.value : ''", "tickSize": {"expr": "datum.value % 50 == 0 ? 14 : 6"}}}}},
        {"data": {"values": [{"s": "Z comp PGV=123 mm/s"}]}, "mark": {"type": "text", "font": "Liberation Sans", "fontSize": 18, "fontWeight": "bold", "color": "#111"},
         "encoding": {"x": {"datum": 44.7}, "y": {"datum": 114}, "text": {"field": "s"}}}
      ]
    },
    {
      "width": 489, "height": 241,
      "layer": [
        {"data": {"name": "dz"}, "mark": {"type": "line", "color": "#137a13", "strokeWidth": 2, "interpolate": "monotone"},
         "encoding": {
           "x": {"field": "t", "type": "quantitative", "scale": {"domain": [0, 60], "nice": false}, "axis": null},
           "y": {"field": "v", "type": "quantitative", "scale": {"domain": [-20, 20], "nice": false},
                 "axis": {"title": "PGD(mm)", "values": [-20,-15,-10,-5,0,5,10,15,20], "labelExpr": "datum.value % 10 == 0 ? '' + datum.value : ''", "tickSize": {"expr": "datum.value % 10 == 0 ? 14 : 6"}}}}},
        {"data": {"values": [{"s": "Z comp PGD=123 mm"}]}, "mark": {"type": "text", "font": "Liberation Sans", "fontSize": 18, "fontWeight": "bold", "color": "#111"},
         "encoding": {"x": {"datum": 44.2}, "y": {"datum": 15.5}, "text": {"field": "s"}}}
      ]
    },
    {"width": 740, "height": 10, "data": {"values": []}, "mark": {"type": "point", "opacity": 0}},
    {
      "width": 476, "height": 241,
      "layer": [
        {"data": {"name": "ax"}, "mark": {"type": "line", "color": "#1010f0", "strokeWidth": 1.3},
         "encoding": {
           "x": {"field": "t", "type": "quantitative", "scale": {"domain": [0, 60], "nice": false},
                 "axis": {"title": "Time (s)", "values": [0,10,20,30,40,50,60], "labelExpr": "datum.value % 20 == 0 ? '' + datum.value : ''", "tickSize": {"expr": "datum.value % 20 == 0 ? 14 : 6"}}},
           "y": {"field": "v", "type": "quantitative", "scale": {"domain": [-6000, 6000], "nice": false},
                 "axis": {"title": "PGA (mm/s²)", "values": [-6000,-5000,-4000,-3000,-2000,-1000,0,1000,2000,3000,4000,5000,6000], "labelExpr": "datum.value % 2000 == 0 ? '' + datum.value : ''", "tickSize": {"expr": "datum.value % 2000 == 0 ? 14 : 6"}}}}},
        {"data": {"values": [{"s": "X comp (N180º) PGA=4250mm/s²"}]}, "mark": {"type": "text", "font": "Liberation Sans", "fontSize": 18, "fontWeight": "bold", "color": "#111"},
         "encoding": {"x": {"datum": 37.2}, "y": {"datum": 6307}, "text": {"field": "s"}}}
      ]
    },
    {
      "width": 483, "height": 241,
      "layer": [
        {"data": {"name": "vx"}, "mark": {"type": "line", "color": "#1010f0", "strokeWidth": 1.8},
         "encoding": {
           "x": {"field": "t", "type": "quantitative", "scale": {"domain": [0, 60], "nice": false},
                 "axis": {"title": "Time (s)", "values": [0,10,20,30,40,50,60], "labelExpr": "datum.value % 20 == 0 ? '' + datum.value : ''", "tickSize": {"expr": "datum.value % 20 == 0 ? 14 : 6"}}},
           "y": {"field": "v", "type": "quantitative", "scale": {"domain": [-400, 400], "nice": false},
                 "axis": {"title": "PGV (mm/s)", "values": [-400,-300,-200,-100,0,100,200,300,400], "labelExpr": "datum.value % 200 == 0 ? '' + datum.value : ''", "tickSize": {"expr": "datum.value % 200 == 0 ? 14 : 6"}}}}},
        {"data": {"values": [{"s": "X comp (N180º) PGV=298 mm/s"}]}, "mark": {"type": "text", "font": "Liberation Sans", "fontSize": 18, "fontWeight": "bold", "color": "#111"},
         "encoding": {"x": {"datum": 36.8}, "y": {"datum": 419}, "text": {"field": "s"}}}
      ]
    },
    {
      "width": 489, "height": 241,
      "layer": [
        {"data": {"name": "dx"}, "mark": {"type": "line", "color": "#1010f0", "strokeWidth": 2, "interpolate": "monotone"},
         "encoding": {
           "x": {"field": "t", "type": "quantitative", "scale": {"domain": [0, 60], "nice": false},
                 "axis": {"title": "Time (s)", "values": [0,10,20,30,40,50,60], "labelExpr": "datum.value % 20 == 0 ? '' + datum.value : ''", "tickSize": {"expr": "datum.value % 20 == 0 ? 14 : 6"}}},
           "y": {"field": "v", "type": "quantitative", "scale": {"domain": [-80, 80], "nice": false},
                 "axis": {"title": "PGD (mm)", "values": [-80,-60,-40,-20,0,20,40,60,80], "labelExpr": "datum.value % 40 == 0 ? '' + datum.value : ''", "tickSize": {"expr": "datum.value % 40 == 0 ? 14 : 6"}}}}},
        {"data": {"values": [{"s": "X comp (N180º) PGD=54 mm"}]}, "mark": {"type": "text", "font": "Liberation Sans", "fontSize": 18, "fontWeight": "bold", "color": "#111"},
         "encoding": {"x": {"datum": 35.6}, "y": {"datum": 83.7}, "text": {"field": "s"}}}
      ]
    },
    {
      "width": 740, "height": 277,
      "layer": [
        {"data": {"values": [{"s": "Εικόνα 3. Οι διορθωμένες χρονοϊστορίες της εδαφικής επιτάχυνσης, ταχύτητας και μετατόπισης για την"}]}, "mark": {"type": "text", "font": "Open Sans", "fontSize": 38, "color": "#111", "align": "center", "baseline": "alphabetic"},
         "encoding": {"x": {"datum": 1626, "scale": {"domain": [0, 740], "nice": false}, "axis": null}, "y": {"datum": 109, "scale": {"domain": [0, 277], "reverse": true, "nice": false}, "axis": null}, "text": {"field": "s"}}},
        {"data": {"values": [{"s": "καταγραφή του κύριου σεισμού της 26"}]}, "mark": {"type": "text", "font": "Open Sans", "fontSize": 38, "color": "#111", "align": "right", "baseline": "alphabetic"},
         "encoding": {"x": {"datum": 1541}, "y": {"datum": 171}, "text": {"field": "s"}}},
        {"data": {"values": [{"s": "ης"}]}, "mark": {"type": "text", "font": "Open Sans", "fontSize": 24, "color": "#111", "align": "left", "baseline": "alphabetic"},
         "encoding": {"x": {"datum": 1543}, "y": {"datum": 155}, "text": {"field": "s"}}},
        {"data": {"values": [{"s": "Ιανουαρίου 2014 (13:55 GMT, M"}]}, "mark": {"type": "text", "font": "Open Sans", "fontSize": 38, "color": "#111", "align": "left", "baseline": "alphabetic"},
         "encoding": {"x": {"datum": 1580}, "y": {"datum": 171}, "text": {"field": "s"}}},
        {"data": {"values": [{"s": "L"}]}, "mark": {"type": "text", "font": "Open Sans", "fontSize": 24, "color": "#111", "align": "left", "baseline": "alphabetic"},
         "encoding": {"x": {"datum": 2148}, "y": {"datum": 179}, "text": {"field": "s"}}},
        {"data": {"values": [{"s": "5.8 ) από τον"}]}, "mark": {"type": "text", "font": "Open Sans", "fontSize": 38, "color": "#111", "align": "left", "baseline": "alphabetic"},
         "encoding": {"x": {"datum": 2163}, "y": {"datum": 171}, "text": {"field": "s"}}},
        {"data": {"values": [{"s": "επιταχυνσιογράφο του Ληξουρίου."}]}, "mark": {"type": "text", "font": "Open Sans", "fontSize": 38, "color": "#111", "align": "center", "baseline": "alphabetic"},
         "encoding": {"x": {"datum": 1628}, "y": {"datum": 233}, "text": {"field": "s"}}}
      ]
    },
    {"width": 10, "height": 10, "data": {"values": []}, "mark": {"type": "point", "opacity": 0}},
    {"width": 10, "height": 10, "data": {"values": []}, "mark": {"type": "point", "opacity": 0}},
    {"width": 10, "height": 10, "data": {"values": []}, "mark": {"type": "point", "opacity": 0}},
    {"width": 740, "height": 10, "data": {"values": []}, "mark": {"type": "point", "opacity": 0}},
    {
      "width": 477, "height": 485,
      "data": {"name": "sa"},
      "layer": [
        {"mark": {"type": "area", "color": "#a0a0a0"},
         "encoding": {
           "x": {"field": "T", "type": "quantitative", "scale": {"type": "log", "domain": [0.01, 10], "nice": false},
                 "axis": {"title": "Period (s)", "values": [0.01,0.02,0.03,0.04,0.05,0.06,0.07,0.08,0.09,0.1,0.2,0.3,0.4,0.5,0.6,0.7,0.8,0.9,1,2,3,4,5,6,7,8,9,10], "labelExpr": "datum.value == 0.01 ? '0.01' : datum.value == 0.1 ? '0.1' : datum.value == 1 ? '1' : datum.value == 10 ? '10' : ''", "tickSize": {"expr": "indexof([0.01, 0.1, 1, 10], datum.value) >= 0 ? 12 : -8"}}},
           "y": {"field": "X", "type": "quantitative", "scale": {"domain": [0, 25000], "nice": false},
                 "axis": {"title": "SA (mm/s²)", "values": [0,2500,5000,7500,10000,12500,15000,17500,20000,22500,25000], "labelExpr": "datum.value % 5000 == 0 ? '' + datum.value : ''", "tickSize": {"expr": "datum.value % 5000 == 0 ? 14 : 6"}}},
           "y2": {"field": "Y"}
         }},
        {"transform": [{"fold": ["Z", "X", "Y"], "as": ["c", "v"]}],
         "mark": {"type": "line", "strokeWidth": 2.5},
         "encoding": {
           "x": {"field": "T", "type": "quantitative", "title": "Period (s)"},
           "y": {"field": "v", "type": "quantitative", "title": "SA (mm/s²)"},
           "color": {"field": "c", "type": "nominal", "scale": {"domain": ["Z", "X", "Y"], "range": ["#159015", "#1414d8", "#f01414"]},
             "legend": {"orient": "none", "legendX": 274, "legendY": 100, "title": "5%", "titleFontSize": 20, "titleFontWeight": "bold", "titleColor": "#111", "titleAnchor": "middle", "titlePadding": 0,
               "labelFontSize": 12, "labelExpr": "datum.value == 'Z' ? 'Z comp' : datum.value == 'X' ? 'X comp (N180º)' : 'Y comp (N270º)'",
               "symbolType": "M-1,0H8.5", "symbolSize": 256, "symbolStrokeWidth": 3.5, "labelOffset": 66,
               "strokeColor": "#555", "fillColor": "white", "padding": 7, "rowPadding": 0,
               "encode": {"labels": {"update": {"fill": {"signal": "datum.value == 'Z' ? '#159015' : datum.value == 'X' ? '#1414d8' : '#f01414'"}}}, "legend": {"update": {"strokeWidth": {"value": 2}}}}}}
         }},
        {"data": {"name": "eak"}, "mark": {"type": "line", "color": "#000", "strokeWidth": 9, "interpolate": "monotone"},
         "encoding": {"x": {"field": "T", "type": "quantitative", "title": "Period (s)"}, "y": {"field": "v", "type": "quantitative", "title": "SA (mm/s²)"}}},
        {"data": {"values": [{"s": "EAK"}]}, "mark": {"type": "text", "font": "Liberation Sans", "fontSize": 52, "fontWeight": "bold", "color": "#000", "angle": 37},
         "encoding": {"x": {"datum": 3.2}, "y": {"datum": 7130}, "text": {"field": "s"}}}
      ]
    },
    {
      "width": 483, "height": 485,
      "data": {"name": "sv"},
      "mark": {"type": "line", "strokeWidth": 2.5},
      "encoding": {
        "x": {"field": "T", "type": "quantitative", "scale": {"type": "log", "domain": [0.01, 10], "nice": false},
              "axis": {"title": "Period (s)", "values": [0.01,0.02,0.03,0.04,0.05,0.06,0.07,0.08,0.09,0.1,0.2,0.3,0.4,0.5,0.6,0.7,0.8,0.9,1,2,3,4,5,6,7,8,9,10], "labelExpr": "datum.value == 0.01 ? '0.01' : datum.value == 0.1 ? '0.1' : datum.value == 1 ? '1' : datum.value == 10 ? '10' : ''", "tickSize": {"expr": "indexof([0.01, 0.1, 1, 10], datum.value) >= 0 ? 12 : -8"}}},
        "y": {"field": "v", "type": "quantitative", "scale": {"domain": [0, 1600], "nice": false},
              "axis": {"title": "SV (mm/s)", "values": [0,200,400,600,800,1000,1200,1400,1600], "labelExpr": "datum.value % 400 == 0 ? '' + datum.value : ''", "tickSize": {"expr": "datum.value % 400 == 0 ? 14 : 6"}}},
        "color": {"field": "c", "type": "nominal", "scale": {"domain": ["Z", "X", "Y"], "range": ["#159015", "#1414d8", "#f01414"]},
          "legend": {"orient": "none", "legendX": 38, "legendY": 7, "title": "5%", "titleFontSize": 20, "titleFontWeight": "bold", "titleColor": "#111", "titleAnchor": "middle", "titlePadding": 0,
            "labelFontSize": 12, "labelExpr": "datum.value == 'Z' ? 'Z comp' : datum.value == 'X' ? 'X comp (N180º)' : 'Y comp (N270º)'",
            "symbolType": "M-1,0H8.5", "symbolSize": 256, "symbolStrokeWidth": 3.5, "labelOffset": 66,
            "strokeColor": "#555", "fillColor": "white", "padding": 7, "rowPadding": 0,
            "encode": {"labels": {"update": {"fill": {"signal": "datum.value == 'Z' ? '#159015' : datum.value == 'X' ? '#1414d8' : '#f01414'"}}}, "legend": {"update": {"strokeWidth": {"value": 2}}}}}}
      }
    },
    {
      "width": 468, "height": 485,
      "data": {"name": "sd"},
      "mark": {"type": "line", "strokeWidth": 2.5},
      "encoding": {
        "x": {"field": "T", "type": "quantitative", "scale": {"type": "log", "domain": [0.01, 10], "nice": false},
              "axis": {"title": "Period (s)", "values": [0.01,0.02,0.03,0.04,0.05,0.06,0.07,0.08,0.09,0.1,0.2,0.3,0.4,0.5,0.6,0.7,0.8,0.9,1,2,3,4,5,6,7,8,9,10], "labelExpr": "datum.value == 0.01 ? '0.01' : datum.value == 0.1 ? '0.1' : datum.value == 1 ? '1' : datum.value == 10 ? '10' : ''", "tickSize": {"expr": "indexof([0.01, 0.1, 1, 10], datum.value) >= 0 ? 12 : -8"}}},
        "y": {"field": "v", "type": "quantitative", "scale": {"domain": [0, 250], "nice": false},
              "axis": {"title": "SD (mm)", "values": [0,25,50,75,100,125,150,175,200,225,250], "labelExpr": "datum.value % 50 == 0 ? '' + datum.value : ''", "tickSize": {"expr": "datum.value % 50 == 0 ? 14 : 6"}}},
        "color": {"field": "c", "type": "nominal", "scale": {"domain": ["Y", "Z", "X"], "range": ["#f01414", "#159015", "#1414d8"]},
          "legend": {"orient": "none", "legendX": 56, "legendY": 1, "title": "5%", "titleFontSize": 20, "titleFontWeight": "bold", "titleColor": "#111", "titleAnchor": "middle", "titlePadding": 0,
            "labelFontSize": 12, "labelExpr": "datum.value == 'Z' ? 'Z comp' : datum.value == 'X' ? 'X comp (N180º)' : 'Y comp (N270º)'",
            "symbolType": "M-1,0H8.5", "symbolSize": 256, "symbolStrokeWidth": 3.5, "labelOffset": 66,
            "strokeColor": "#555", "fillColor": "white", "padding": 7, "rowPadding": 0,
            "encode": {"labels": {"update": {"fill": {"signal": "datum.value == 'Z' ? '#159015' : datum.value == 'X' ? '#1414d8' : '#f01414'"}}}, "legend": {"update": {"strokeWidth": {"value": 2}}}}}}
      }
    },
    {
      "width": 740, "height": 196,
      "layer": [
        {"data": {"values": [{"s": "Εικόνα 4. Τα φάσματα απόκρισης για τις χρονοϊστορίες της εικόνας 3 και για συντελεστή απόσβεσης"}]}, "mark": {"type": "text", "font": "Open Sans", "fontSize": 38, "color": "#111", "align": "center", "baseline": "alphabetic"},
         "encoding": {"x": {"datum": 1630, "scale": {"domain": [0, 740], "nice": false}, "axis": null}, "y": {"datum": 112, "scale": {"domain": [0, 196], "reverse": true, "nice": false}, "axis": null}, "text": {"field": "s"}}},
        {"data": {"values": [{"s": "5%."}]}, "mark": {"type": "text", "font": "Open Sans", "fontSize": 38, "color": "#111", "align": "center", "baseline": "alphabetic"},
         "encoding": {"x": {"datum": 1628}, "y": {"datum": 170}, "text": {"field": "s"}}}
      ]
    }
  ],
  "config": {
    "view": {"stroke": null},
    "axis": {
      "labelFont": "Liberation Sans", "titleFont": "Liberation Sans",
      "labelFontSize": 13, "titleFontSize": 11, "titleFontWeight": "normal",
      "labelColor": "#222", "titleColor": "#222",
      "domainColor": "#333", "tickColor": "#333", "domainWidth": 1.5, "tickWidth": 1.5,
      "grid": false, "labelPadding": 8, "labelOverlap": false, "labelFlush": false, "titlePadding": 6
    },
    "legend": {"labelFont": "Liberation Sans", "titleFont": "Liberation Sans"}
  }
}
